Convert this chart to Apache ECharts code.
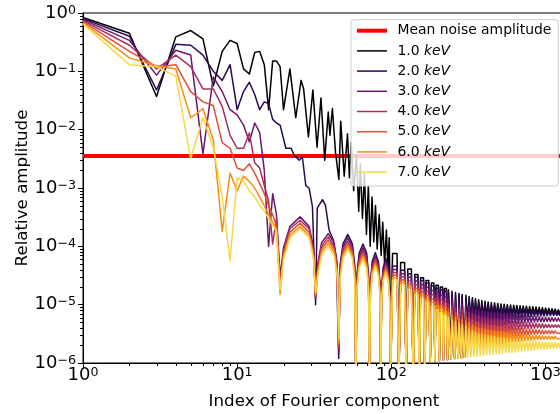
<!DOCTYPE html>
<html><head><meta charset="utf-8">
<script src="https://cdn.jsdelivr.net/npm/echarts@6/dist/echarts.min.js"></script>
<style>html,body{margin:0;padding:0;background:#fff}#c{width:560px;height:414px}#err{position:absolute;left:90px;top:20px;font:10px monospace;color:#c00}</style>
</head><body><div id="c"></div><div id="err"></div>
<script>
// ---------- labels / axes ----------
const NOISE_NAME = 'Mean noise amplitude';
const NOISE_LEVEL = 3.53e-3;
const SERIES_NAMES = ['1.0 keV','2.0 keV','3.0 keV','4.0 keV','5.0 keV','6.0 keV','7.0 keV'];
const COLORS = ['#000004','#2c0a50','#6a176e','#a82e5e','#dd513a','#f88e12','#f6d746'];
const X_MIN = 1, X_MAX = 1340, Y_MIN = 1e-6, Y_MAX = 1;
const X_TICKS = [1, 10, 100, 1000];
const Y_TICKS = [1e-6, 1e-5, 1e-4, 1e-3, 1e-2, 1e-1, 1];
const MINOR_MANTISSAS = [2,3,4,5,6,7,8,9];

// ---------- low-index region (shared integer indices) ----------
const X_LOW = [1,2,3,4,5,6,7,8,9,10,11,12,13,14,15,16,17,18];
const K1_LOW = [0.84,0.45,0.037,0.39,0.50,0.36,0.056,0.22,0.34,0.30,0.11,0.09,0.21,0.22,0.13,0.022,0.15,0.15];
const K2_LOW = [0.80,0.40,0.048,0.29,0.28,0.19,0.10,0.07,0.13,0.022,0.045,0.065,0.04,0.022,0.03,0.028,0.015,0.013];
const K3_LOW = [0.77,0.34,0.086,0.23,0.19,0.0038,0.08,0.045,0.022,0.018,0.012,0.0062,0.013,0.009,0.002,0.0001,0.0008,0.00035];
const K4_LOW = [0.74,0.28,0.11,0.19,0.12,0.05,0.05,0.025,0.008,0.0048,0.0048,0.0088,0.0027,0.0022,0.0011,0.0006,0.00011,0.0003];
const K5_LOW = [0.71,0.22,0.12,0.13,0.045,0.03,0.026,0.006,0.0048,0.0022,0.002,0.0026,0.0018,0.0012,0.0008,0.0005,0.00035,0.00022];
const K6_LOW = [0.68,0.17,0.125,0.11,0.016,0.023,0.0066,0.00018,0.0018,0.0009,0.0016,0.0013,0.001,0.0007,0.0005,0.00035,0.00026,0.0002];
const K7_LOW = [0.65,0.13,0.12,0.083,0.0032,0.016,0.005,0.0007,0.000057,0.0015,0.0013,0.0009,0.0007,0.0005,0.0004,0.0003,0.00023,0.00018];

// ---------- 1 keV middle region ----------
const K1_MID_X = [19,20,22,24,26,27,29,31,33,35,37,39,40,41.5,43.5,45.7,47,49.5,52,53.5,55,57,59.5,61.5,63,65,67,69,71,73,75,77,79,81,83.5,86,88,90.5,93,95,97];
const K1_MID_Y = [0.12,0.022,0.11,0.016,0.07,0.05,0.0075,0.048,0.005,0.035,0.003,0.02,0.008,0.023,0.004,0.0014,0.014,0.0016,0.0085,0.0015,0.006,0.0009,0.0035,0.0004,0.0026,0.0003,0.0018,0.00016,0.0011,0.0001,0.0007,0.00012,0.0005,0.00009,0.00035,0.00007,0.00026,0.00005,0.00019,0.00004,0.00014];

// ---------- 2 keV middle region ----------
const K2_MID_X = [19,20.7,22.4,23.5,25.3,26.5,27.9,29.3,30.8,32.3,33.1,35.8,37.4,39.5,42,44];
const K2_MID_Y = [0.012,0.0048,0.0048,0.0036,0.003,0.0034,0.0011,0.001,0.00048,0.00001,0.00045,0.00063,0.00051,0.00019,0.00013,0.00006];

// ---------- side-lobe region 19..98 (shared positions) ----------
const X_LOBES = [19,20,22,25.6,29.3,31.3, 32.3,33.3,35.3,39,42.6,44.6, 45.6,46.6,48.6,52.2,55.9,57.9, 58.9,59.9,61.9,65.5,69.2,71.2, 72.2,73.2,75.2,78.8,82.5,84.5, 85.5,86.5,88.5,92.2,95.8,97.8];
const K2_LOBES = [1.2e-6,4.8e-5,1.1e-4,1.6e-4,1.1e-4,4.8e-5, 5e-7,3.3e-5,7.7e-5,1.1e-4,7.7e-5,3.3e-5, 5e-7,2.3e-5,5.5e-5,7.8e-5,5.5e-5,2.3e-5, 5e-7,1.9e-5,4.3e-5,6.2e-5,4.3e-5,1.9e-5];
const K3_LOBES = [3e-5,9.6e-5,2.2e-4,3.2e-4,2.2e-4,9.6e-5, 1.3e-5,5e-5,1.15e-4,1.65e-4,1.15e-4,5e-5, 1.5e-6,4.2e-5,9.8e-5,1.4e-4,9.8e-5,4.2e-5, 5e-7,2.9e-5,6.6e-5,9.5e-5,6.6e-5,2.9e-5, 5e-7,2e-5,4.8e-5,6.8e-5,4.8e-5,2e-5, 5e-7,1.6e-5,3.8e-5,5.4e-5,3.8e-5,1.6e-5];
const K4_LOBES = [2.5e-5,8.4e-5,2e-4,2.8e-4,2e-4,8.4e-5, 1.3e-5,4.4e-5,1e-4,1.45e-4,1e-4,4.4e-5, 1.8e-6,3.7e-5,8.6e-5,1.23e-4,8.6e-5,3.7e-5, 5e-7,2.6e-5,6e-5,8.5e-5,6e-5,2.6e-5, 5e-7,1.8e-5,4.3e-5,6.1e-5,4.3e-5,1.8e-5, 5e-7,1.4e-5,3.4e-5,4.8e-5,3.4e-5,1.4e-5];
const K5_LOBES = [2e-5,7.5e-5,1.75e-4,2.5e-4,1.75e-4,7.5e-5, 1.4e-5,3.8e-5,9e-5,1.28e-4,9e-5,3.8e-5, 2e-6,3.3e-5,7.7e-5,1.1e-4,7.7e-5,3.3e-5, 5e-7,2.3e-5,5.3e-5,7.5e-5,5.3e-5,2.3e-5, 5e-7,1.65e-5,3.9e-5,5.5e-5,3.9e-5,1.65e-5, 5e-7,1.3e-5,3e-5,4.3e-5,3e-5,1.3e-5];
const K6_LOBES = [1.5e-5,6.6e-5,1.55e-4,2.2e-4,1.55e-4,6.6e-5, 1.5e-5,3.4e-5,7.9e-5,1.13e-4,7.9e-5,3.4e-5, 2.2e-6,3e-5,7e-5,1e-4,7e-5,3e-5, 5e-7,2e-5,4.7e-5,6.7e-5,4.7e-5,2e-5, 5e-7,1.5e-5,3.5e-5,5e-5,3.5e-5,1.5e-5, 5e-7,1.2e-5,2.7e-5,3.9e-5,2.7e-5,1.2e-5];
const K7_LOBES = [1.8e-5,6e-5,1.4e-4,2e-4,1.4e-4,6e-5, 1.6e-5,3e-5,7e-5,1e-4,7e-5,3e-5, 2.5e-6,2.7e-5,6.3e-5,9e-5,6.3e-5,2.7e-5, 5e-7,1.8e-5,4.2e-5,6e-5,4.2e-5,1.8e-5, 5e-7,1.35e-5,3.2e-5,4.5e-5,3.2e-5,1.35e-5, 5e-7,1.05e-5,2.5e-5,3.5e-5,2.5e-5,1.05e-5];

// ---------- high-index band: peak positions and trough positions ----------
const BAND_TOP_X = [102,109,115,122,128,135,142,149,155,162,168,175,182,189,195,202,208,215,221,228,235,242,248,255,261,268,275,282,288,295,
  305,320,336,352,369,387,406,425,446,468,491,515,540,566,594,623,653,685,718,753,790,829,869,912,956,1003,1052,1103,1157,1213,1272,1333];
const BAND_BOT_X = [99,112,125,139,152,165,179,192,205,218,232,245,258,272,285,298,
  312,328,344,360,378,396,415,436,457,479,503,527,553,580,608,638,669,701,736,772,809,849,890,934,979,1027,1077,1130,1185,1242,1302,1365];

const K1_TOP = [7.5e-5,7.5e-5,5.3e-5,5.3e-5,4.1e-5,4.1e-5,3.3e-5,3.3e-5,2.9e-5,2.9e-5,2.6e-5,2.6e-5,2.35e-5,2.35e-5,2.15e-5,2.15e-5,2e-5,2e-5,1.9e-5,1.9e-5,1.8e-5,1.8e-5,1.7e-5,1.7e-5,1.62e-5,1.62e-5,1.55e-5,1.55e-5,1.5e-5,1.5e-5,
  1.45e-5,1.38e-5,1.32e-5,1.26e-5,1.21e-5,1.17e-5,1.14e-5,1.11e-5,1.09e-5,1.07e-5,1.05e-5,1.03e-5,1.02e-5,1e-5,9.9e-6,9.8e-6,9.7e-6,9.6e-6,9.5e-6,9.4e-6,9.3e-6,9.2e-6,9.1e-6,9e-6,8.9e-6,8.8e-6,8.7e-6,8.5e-6,8.4e-6,8.2e-6,8.1e-6,8e-6];
const K2_TOP = [4.6e-5,4.6e-5,3.9e-5,3.9e-5,3.4e-5,3.4e-5,2.95e-5,2.95e-5,2.6e-5,2.6e-5,2.35e-5,2.35e-5,2.1e-5,2.1e-5,1.92e-5,1.92e-5,1.8e-5,1.8e-5,1.7e-5,1.7e-5,1.62e-5,1.62e-5,1.55e-5,1.55e-5,1.48e-5,1.48e-5,1.42e-5,1.42e-5,1.37e-5,1.37e-5,
  1.32e-5,1.26e-5,1.2e-5,1.15e-5,1.1e-5,1.06e-5,1.03e-5,1e-5,9.8e-6,9.6e-6,9.5e-6,9.3e-6,9.2e-6,9e-6,8.9e-6,8.8e-6,8.6e-6,8.5e-6,8.4e-6,8.3e-6,8.2e-6,8.1e-6,8e-6,7.9e-6,7.8e-6,7.8e-6,7.7e-6,7.6e-6,7.5e-6,7.4e-6,7.3e-6,7.2e-6];
const K3_TOP = [4e-5,4e-5,3.4e-5,3.4e-5,2.95e-5,2.95e-5,2.55e-5,2.55e-5,2.2e-5,2.2e-5,1.98e-5,1.98e-5,1.75e-5,1.75e-5,1.57e-5,1.57e-5,1.45e-5,1.45e-5,1.36e-5,1.36e-5,1.28e-5,1.28e-5,1.2e-5,1.2e-5,1.13e-5,1.13e-5,1.07e-5,1.07e-5,1.02e-5,1.02e-5,
  9.8e-6,9.2e-6,8.8e-6,8.5e-6,8.2e-6,7.9e-6,7.7e-6,7.5e-6,7.4e-6,7.3e-6,7.2e-6,7.1e-6,7e-6,6.9e-6,6.8e-6,6.7e-6,6.6e-6,6.6e-6,6.5e-6,6.4e-6,6.4e-6,6.3e-6,6.2e-6,6.2e-6,6.1e-6,6.1e-6,6e-6,6e-6,5.9e-6,5.9e-6,5.8e-6,5.8e-6];
const K4_TOP = [3.55e-5,3.55e-5,3e-5,3e-5,2.55e-5,2.55e-5,2.2e-5,2.2e-5,1.92e-5,1.92e-5,1.68e-5,1.68e-5,1.48e-5,1.48e-5,1.31e-5,1.31e-5,1.2e-5,1.2e-5,1.11e-5,1.11e-5,1.03e-5,1.03e-5,9.6e-6,9.6e-6,9e-6,9e-6,8.6e-6,8.6e-6,8.2e-6,8.2e-6,
  7.8e-6,7.3e-6,6.9e-6,6.6e-6,6.3e-6,6.1e-6,5.9e-6,5.8e-6,5.7e-6,5.6e-6,5.5e-6,5.4e-6,5.3e-6,5.3e-6,5.2e-6,5.1e-6,5.1e-6,5e-6,5e-6,4.9e-6,4.9e-6,4.8e-6,4.8e-6,4.7e-6,4.7e-6,4.6e-6,4.6e-6,4.5e-6,4.5e-6,4.5e-6,4.4e-6,4.4e-6];
const K5_TOP = [3.2e-5,3.2e-5,2.65e-5,2.65e-5,2.25e-5,2.25e-5,1.9e-5,1.9e-5,1.65e-5,1.65e-5,1.43e-5,1.43e-5,1.25e-5,1.25e-5,1.11e-5,1.11e-5,1.01e-5,1.01e-5,9.3e-6,9.3e-6,8.5e-6,8.5e-6,7.9e-6,7.9e-6,7.4e-6,7.4e-6,7e-6,7e-6,6.6e-6,6.6e-6,
  6.2e-6,5.8e-6,5.4e-6,5.1e-6,4.9e-6,4.75e-6,4.6e-6,4.5e-6,4.45e-6,4.4e-6,4.3e-6,4.25e-6,4.2e-6,4.1e-6,4.05e-6,4e-6,3.95e-6,3.9e-6,3.85e-6,3.8e-6,3.8e-6,3.75e-6,3.7e-6,3.7e-6,3.65e-6,3.6e-6,3.6e-6,3.6e-6,3.55e-6,3.5e-6,3.5e-6,3.5e-6];
const K6_TOP = [2.9e-5,2.9e-5,2.4e-5,2.4e-5,2e-5,2e-5,1.7e-5,1.7e-5,1.46e-5,1.46e-5,1.26e-5,1.26e-5,1.1e-5,1.1e-5,9.6e-6,9.6e-6,8.7e-6,8.7e-6,7.9e-6,7.9e-6,7.2e-6,7.2e-6,6.6e-6,6.6e-6,6.1e-6,6.1e-6,5.8e-6,5.8e-6,5.5e-6,5.5e-6,
  5.2e-6,4.8e-6,4.5e-6,4.2e-6,4e-6,3.85e-6,3.75e-6,3.65e-6,3.6e-6,3.55e-6,3.5e-6,3.45e-6,3.4e-6,3.35e-6,3.3e-6,3.25e-6,3.2e-6,3.2e-6,3.15e-6,3.1e-6,3.05e-6,3e-6,3e-6,2.95e-6,2.9e-6,2.9e-6,2.9e-6,2.85e-6,2.85e-6,2.8e-6,2.8e-6,2.8e-6];
const K7_TOP = [2.65e-5,2.65e-5,2.15e-5,2.15e-5,1.8e-5,1.8e-5,1.5e-5,1.5e-5,1.28e-5,1.28e-5,1.1e-5,1.1e-5,9.4e-6,9.4e-6,8.1e-6,8.1e-6,7.3e-6,7.3e-6,6.6e-6,6.6e-6,6e-6,6e-6,5.5e-6,5.5e-6,5.1e-6,5.1e-6,4.8e-6,4.8e-6,4.5e-6,4.5e-6,
  4.3e-6,3.9e-6,3.6e-6,3.4e-6,3.2e-6,3.1e-6,3e-6,2.95e-6,2.9e-6,2.85e-6,2.8e-6,2.75e-6,2.7e-6,2.65e-6,2.6e-6,2.55e-6,2.5e-6,2.5e-6,2.45e-6,2.45e-6,2.4e-6,2.4e-6,2.35e-6,2.35e-6,2.3e-6,2.3e-6,2.3e-6,2.25e-6,2.25e-6,2.2e-6,2.2e-6,2.2e-6];

const K1_NULLS = [4e-6,5e-7,5e-7,5e-7,5e-7,5e-7,1.05e-6,1.08e-6,1.1e-6,1.12e-6,1.15e-6,1.17e-6,1.19e-6,1.21e-6,1.23e-6,1.25e-6];
const LOBE_NULLS = [5e-7,5e-7,5e-7,5e-7,5e-7,5e-7,1.05e-6,1.08e-6,1.1e-6,1.12e-6,1.15e-6,1.17e-6,1.19e-6,1.21e-6,1.23e-6,1.25e-6];

const K1_BOT = [5.2e-6,5.5e-6,5.7e-6,5.9e-6,6e-6,6.1e-6,6.2e-6,6.3e-6,6.4e-6,6.5e-6,6.5e-6,6.6e-6,6.6e-6,6.7e-6,6.7e-6,6.8e-6,6.8e-6,6.9e-6,6.9e-6,6.9e-6,6.9e-6,7e-6,7e-6,7e-6,7e-6,7e-6,7e-6,7e-6,7e-6,7e-6,7e-6,7e-6];
const K2_BOT = [4.1e-6,4.4e-6,4.6e-6,4.75e-6,4.9e-6,5.05e-6,5.2e-6,5.35e-6,5.5e-6,5.6e-6,5.7e-6,5.8e-6,5.85e-6,5.9e-6,5.95e-6,6e-6,6.05e-6,6.1e-6,6.15e-6,6.2e-6,6.25e-6,6.3e-6,6.35e-6,6.4e-6,6.4e-6,6.45e-6,6.45e-6,6.5e-6,6.5e-6,6.5e-6,6.5e-6,6.5e-6];
const K3_BOT = [3.1e-6,3.3e-6,3.45e-6,3.55e-6,3.7e-6,3.85e-6,3.95e-6,4.1e-6,4.2e-6,4.3e-6,4.4e-6,4.5e-6,4.6e-6,4.7e-6,4.75e-6,4.8e-6,4.85e-6,4.9e-6,4.95e-6,5e-6,5e-6,5.05e-6,5.1e-6,5.1e-6,5.1e-6,5.15e-6,5.15e-6,5.2e-6,5.2e-6,5.2e-6,5.2e-6,5.2e-6];
const K4_BOT = [2.4e-6,2.55e-6,2.65e-6,2.75e-6,2.85e-6,2.95e-6,3.05e-6,3.15e-6,3.25e-6,3.3e-6,3.4e-6,3.45e-6,3.5e-6,3.6e-6,3.65e-6,3.7e-6,3.75e-6,3.8e-6,3.85e-6,3.9e-6,3.9e-6,3.95e-6,4e-6,4e-6,4e-6,4.05e-6,4.05e-6,4.1e-6,4.1e-6,4.1e-6,4.1e-6,4.1e-6];
const K5_BOT = [1.9e-6,2e-6,2.1e-6,2.15e-6,2.25e-6,2.35e-6,2.45e-6,2.5e-6,2.6e-6,2.65e-6,2.7e-6,2.75e-6,2.8e-6,2.85e-6,2.9e-6,2.95e-6,2.95e-6,3e-6,3.05e-6,3.05e-6,3.1e-6,3.1e-6,3.15e-6,3.15e-6,3.15e-6,3.2e-6,3.2e-6,3.2e-6,3.25e-6,3.25e-6,3.25e-6,3.25e-6];
const K6_BOT = [1.45e-6,1.55e-6,1.6e-6,1.65e-6,1.72e-6,1.8e-6,1.87e-6,1.95e-6,2e-6,2.05e-6,2.1e-6,2.15e-6,2.2e-6,2.25e-6,2.3e-6,2.35e-6,2.35e-6,2.4e-6,2.42e-6,2.45e-6,2.48e-6,2.5e-6,2.52e-6,2.54e-6,2.55e-6,2.56e-6,2.57e-6,2.58e-6,2.6e-6,2.6e-6,2.6e-6,2.6e-6];
const K7_BOT = [1.26e-6,1.28e-6,1.3e-6,1.31e-6,1.33e-6,1.35e-6,1.38e-6,1.4e-6,1.42e-6,1.44e-6,1.45e-6,1.47e-6,1.49e-6,1.51e-6,1.53e-6,1.55e-6,1.57e-6,1.59e-6,1.61e-6,1.63e-6,1.65e-6,1.67e-6,1.69e-6,1.7e-6,1.72e-6,1.74e-6,1.76e-6,1.78e-6,1.8e-6,1.82e-6,1.84e-6,1.85e-6];

try {
// ---------- assembly ----------
function pairs(xs, ys) { return xs.map((x, i) => [x, ys[i]]); }
function band(top, nulls, bot) {
  return pairs(BAND_TOP_X, top).concat(pairs(BAND_BOT_X, nulls.concat(bot))).sort((a, b) => a[0] - b[0]);
}
const DATA = [
  pairs(X_LOW, K1_LOW).concat(pairs(K1_MID_X, K1_MID_Y), band(K1_TOP, K1_NULLS, K1_BOT)),
  pairs(X_LOW, K2_LOW).concat(pairs(K2_MID_X, K2_MID_Y), pairs(X_LOBES.slice(12), K2_LOBES), band(K2_TOP, LOBE_NULLS, K2_BOT)),
  pairs(X_LOW, K3_LOW).concat(pairs(X_LOBES, K3_LOBES), band(K3_TOP, LOBE_NULLS, K3_BOT)),
  pairs(X_LOW, K4_LOW).concat(pairs(X_LOBES, K4_LOBES), band(K4_TOP, LOBE_NULLS, K4_BOT)),
  pairs(X_LOW, K5_LOW).concat(pairs(X_LOBES, K5_LOBES), band(K5_TOP, LOBE_NULLS, K5_BOT)),
  pairs(X_LOW, K6_LOW).concat(pairs(X_LOBES, K6_LOBES), band(K6_TOP, LOBE_NULLS, K6_BOT)),
  pairs(X_LOW, K7_LOW).concat(pairs(X_LOBES, K7_LOBES), band(K7_TOP, LOBE_NULLS, K7_BOT))
];

const X_MINOR = [];
X_TICKS.forEach(d => MINOR_MANTISSAS.forEach(m => { if (m * d < X_MAX) X_MINOR.push(m * d); }));
const Y_MINOR = [];
Y_TICKS.slice(0, -1).forEach(d => MINOR_MANTISSAS.forEach(m => Y_MINOR.push(m * d)));

const FONT = 'DejaVu Sans';
function powLabel(v) {
  const e = Math.round(Math.log10(v));
  return '{b|10}{s|' + (e < 0 ? '\u2212' + (-e) : String(e)) + '}';
}
const RICH = {
  b: { fontFamily: FONT, fontSize: 18, lineHeight: 18, color: '#000', verticalAlign: 'middle' },
  s: { fontFamily: FONT, fontSize: 12.6, lineHeight: 13, color: '#000', verticalAlign: 'top', padding: [0, 0, 14, 0] }
};

const series = [{
  type: 'line', name: NOISE_NAME, data: [[X_MIN, NOISE_LEVEL], [X_MAX, NOISE_LEVEL]],
  symbol: 'none', showSymbol: false, animation: false, silent: true,
  lineStyle: { color: '#ff0000', width: 4 }, itemStyle: { color: '#ff0000' }
}];
SERIES_NAMES.forEach((n, i) => series.push({
  type: 'line', name: n, data: DATA[i], symbol: 'none', showSymbol: false,
  animation: false, silent: true, sampling: null,
  lineStyle: { color: COLORS[i], width: 1.5, join: 'round' }, itemStyle: { color: COLORS[i] }
}));

const chart = echarts.init(document.getElementById('c'), null, { renderer: 'canvas' });
chart.setOption({
  animation: false,
  backgroundColor: '#ffffff',
  grid: { left: 83, right: -5, top: 13, bottom: 51, show: true, borderColor: '#000', borderWidth: 1, containLabel: false, outerBoundsMode: 'none' },
  legend: {
    orient: 'vertical', right: 1.7, top: 19.7,
    backgroundColor: 'rgba(255,255,255,0.8)', borderColor: '#cccccc', borderWidth: 1, borderRadius: 3,
    padding: [4, 7, 7, 4], itemWidth: 30, itemHeight: 14, itemGap: 6.2,
    itemStyle: { opacity: 0 },
    lineStyle: { width: 'inherit' },
    textStyle: { fontFamily: FONT, fontSize: 13.9, color: '#000',
      rich: { m: { fontFamily: FONT, fontSize: 13.9, color: '#000', padding: [0, 0, 0, 5.5] },
              n: { fontFamily: FONT, fontSize: 13.9, color: '#000', padding: [0, 0, 0, 5.5] },
              i: { fontFamily: FONT, fontSize: 13.9, color: '#000', fontStyle: 'italic' } } },
    formatter: name => name.endsWith(' keV') ? '{n|' + name.slice(0, -4) + '} {i|keV}' : '{m|' + name + '}',
    data: [NOISE_NAME].concat(SERIES_NAMES)
  },
  xAxis: {
    type: 'log', logBase: 10, min: X_MIN, max: X_MAX,
    axisLine: { show: true, lineStyle: { color: '#000', width: 1 } },
    axisTick: { show: true, length: 5, lineStyle: { color: '#000', width: 1 } },
    axisLabel: { show: true, margin: 3, formatter: powLabel, rich: RICH },
    splitLine: { show: false }, minorTick: { show: false },
    name: 'Index of Fourier component', nameLocation: 'middle', nameGap: 30, nameMoveOverlap: false,
    nameTextStyle: { fontFamily: FONT, fontSize: 16.7, color: '#000' }
  },
  yAxis: {
    type: 'log', logBase: 10, min: Y_MIN, max: Y_MAX,
    axisLine: { show: true, lineStyle: { color: '#000', width: 1 } },
    axisTick: { show: true, length: 5, lineStyle: { color: '#000', width: 1 } },
    axisLabel: { show: true, margin: 7, formatter: powLabel, rich: RICH },
    splitLine: { show: false }, minorTick: { show: false },
    name: 'Relative amplitude', nameLocation: 'middle', nameGap: 52, nameMoveOverlap: false,
    nameTextStyle: { fontFamily: FONT, fontSize: 16.7, color: '#000' }
  },
  series: series
});

// minor tick marks at 2..9 per decade, positioned through the axis scales
const g = [];
const y0 = chart.convertToPixel({ yAxisIndex: 0 }, Y_MIN);
const x0 = chart.convertToPixel({ xAxisIndex: 0 }, X_MIN);
X_MINOR.forEach(v => {
  const px = Math.round(chart.convertToPixel({ xAxisIndex: 0 }, v)) + 0.5;
  g.push({ type: 'line', silent: true, z: 100, shape: { x1: px, y1: y0, x2: px, y2: y0 + 3 }, style: { stroke: '#000', lineWidth: 1 } });
});
Y_MINOR.forEach(v => {
  const py = Math.round(chart.convertToPixel({ yAxisIndex: 0 }, v)) + 0.5;
  g.push({ type: 'line', silent: true, z: 100, shape: { x1: x0 - 3, y1: py, x2: x0, y2: py }, style: { stroke: '#000', lineWidth: 1 } });
});
chart.setOption({ graphic: g });
} catch (e) { document.getElementById('err').textContent = String(e && e.stack || e); }
</script>
</body></html>
